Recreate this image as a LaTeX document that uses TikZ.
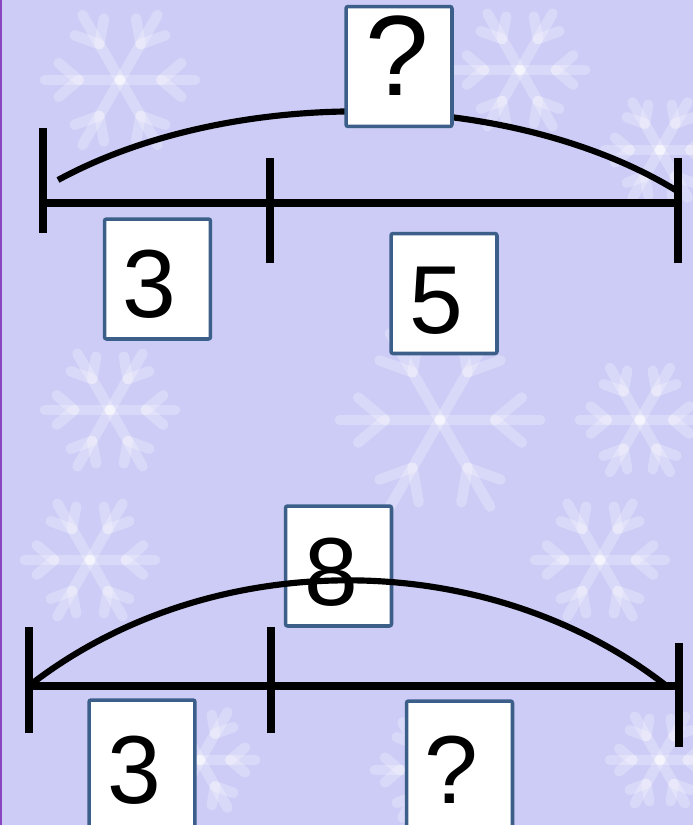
\documentclass[tikz,border=0pt]{standalone}
\usepackage{fontspec}
\setmainfont{Liberation Sans}
\usepackage{tikz}
\usetikzlibrary{positioning,calc}
\definecolor{snowbg}{HTML}{CCCCF6}
\definecolor{boxblue}{HTML}{3C5F8A}
\definecolor{edgepurple}{HTML}{8A45C0}
\tikzset{
  flake/.style={white,opacity=0.25,line width=6pt,line cap=round},
  barline/.style={black,line width=4pt},
  tickline/.style={black,line width=4.4pt},
  arcline/.style={black,line width=3.5pt},
  numbox/.style={draw=boxblue,fill=white,line width=2pt,rounded corners=1.2pt,
    minimum width=2.12cm,minimum height=2.4cm,inner sep=0pt,outer sep=0pt},
  numtext/.style={anchor=base,inner sep=0pt,font=\fontsize{55}{60}\selectfont}
}
% one faint snowflake: x, y, radius
\newcommand{\snowflake}[3]{%
  \foreach \a in {0,60,...,300}{%
    \draw[flake] (#1,#2) -- ++(\a:#3);
    \draw[flake] ($(#1,#2)+(\a:0.55*#3)$) -- ++(\a+40:0.35*#3);
    \draw[flake] ($(#1,#2)+(\a:0.55*#3)$) -- ++(\a-40:0.35*#3);
  }}
\begin{document}
\begin{tikzpicture}[x=0.02cm,y=-0.02cm]
  \useasboundingbox (0,0) rectangle (693,825);
  \clip (0,0) rectangle (693,825);
  % background
  \fill[snowbg] (0,0) rectangle (693,825);
  \foreach \x/\y/\r in {120/80/75,520/70/65,660/150/55,440/420/100,110/410/65,
                        640/420/60,90/560/65,600/560/65,200/760/55,430/770/55,660/760/50}{
    \snowflake{\x}{\y}{\r}}
  \fill[edgepurple] (0,0) rectangle (2.5,825);
  % top bar: ? = 3 + 5
  \coordinate (topL) at (43,203);
  \coordinate (topM) at (270,203);
  \coordinate (topR) at (678,203);
  \draw[barline] (topL) -- (topR);
  \draw[tickline] ($(topL)+(0,-75)$) -- ($(topL)+(0,30)$);
  \draw[tickline] ($(topM)+(0,-45)$) -- ($(topM)+(0,60)$);
  \draw[tickline] ($(topR)+(0,-45)$) -- ($(topR)+(0,60)$);
  \coordinate (topArc) at (58,180);
  \draw[arcline] (topArc) arc[start angle=133.5,end angle=43,x radius=8.72cm,y radius=5cm];
  \node[numbox] (topSum) at (399,66.5) {};
  \node[numtext,font=\fontsize{65}{70}\selectfont] (topSumTxt) at ($(topSum.south)+(-2,-31)$) {?};
  \node[numbox] (topA) at (157.5,279) {};
  \node[numtext] (topATxt) at ($(topA.south)+(-8,-21)$) {3};
  \node[numbox] (topB) at (444,293.5) {};
  \node[numtext] (topBTxt) at ($(topB.south)+(-8,-20)$) {5};
  % bottom bar: 8 = 3 + ?
  \node[numbox] (botSum) at (338.5,566) {};
  \node[numtext] (botSumTxt) at ($(botSum.south)+(-7,-20)$) {8};
  \node[numbox,minimum height=2.6cm] (botA) at (142,765) {};
  \node[numtext] (botATxt) at (134,803) {3};
  \node[numbox,minimum height=2.6cm] (botB) at (459.5,766) {};
  \node[numtext] (botBTxt) at (451.5,803) {?};
  \coordinate (botL) at (29,686);
  \coordinate (botM) at (271,686);
  \coordinate (botR) at (679,686);
  \draw[barline] (botL) -- (botR);
  \draw[tickline] ($(botL)+(0,-59)$) -- ($(botL)+(0,47)$);
  \draw[tickline] ($(botM)+(0,-59)$) -- ($(botM)+(0,47)$);
  \draw[tickline] ($(botR)+(0,-43)$) -- ($(botR)+(0,61)$);
  \coordinate (botArc) at (32,683.5);
  \draw[arcline] (botArc) arc[start angle=132.1,end angle=47.7,x radius=9.42cm,y radius=8cm];
\end{tikzpicture}
\end{document}
